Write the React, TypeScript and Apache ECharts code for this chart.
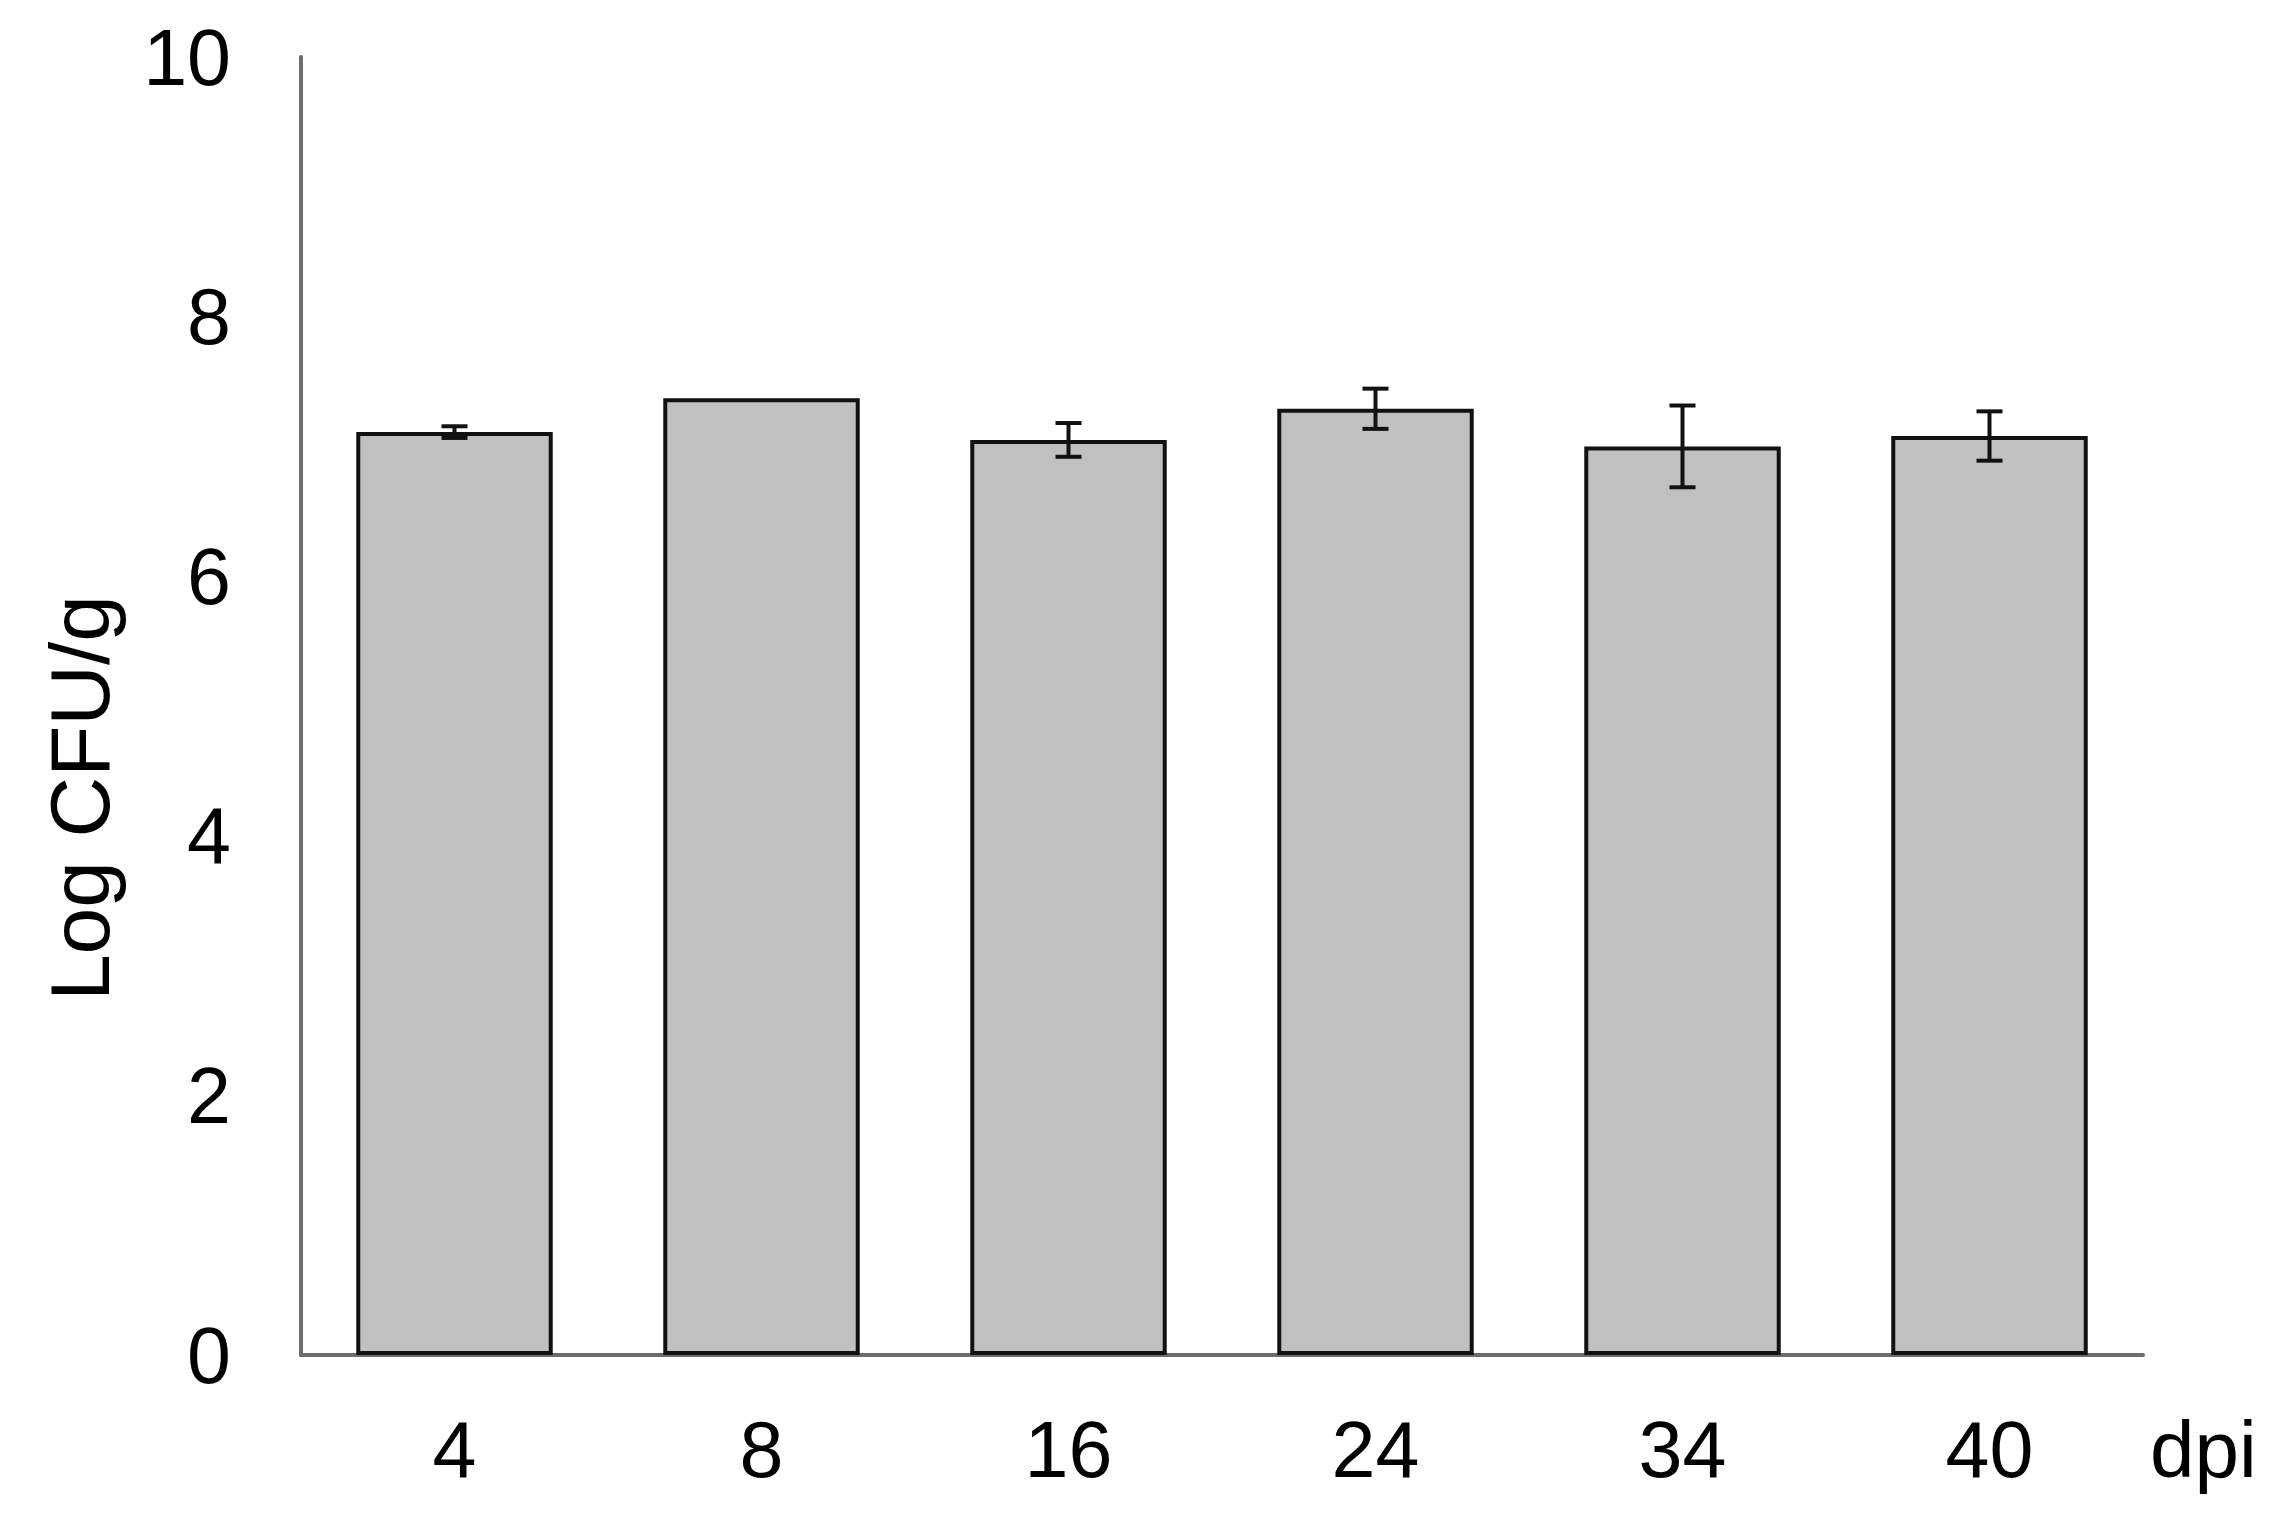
import React, { useEffect, useRef } from 'react';
import * as echarts from 'echarts';

// days post inoculation
const days = ['4', '8', '16', '24', '34', '40'];
// mean Log CFU/g
const meanLog = [7.11, 7.37, 7.05, 7.29, 7.0, 7.08];
// half-length of the error bars (0 = none drawn)
const errLog = [0.045, 0, 0.13, 0.155, 0.315, 0.19];
const yTicks = [0, 2, 4, 6, 8, 10];

const FONT = '"Liberation Sans", Arial, sans-serif';

export default function App() {
  const ref = useRef<HTMLDivElement>(null);
  useEffect(() => {
    if (!ref.current) return;
    const chart = echarts.init(ref.current, undefined, { renderer: 'svg' });
    const errData = days.map((_, i) => [i, meanLog[i] - errLog[i], meanLog[i] + errLog[i]]);
    chart.setOption({
      animation: false,
      backgroundColor: '#fff',
      textStyle: { fontFamily: FONT },
      grid: { left: 301, right: 126, top: 57, bottom: 174 },
      xAxis: {
        type: 'category',
        data: days,
        axisLine: { lineStyle: { color: '#6e6e6e', width: 4 } },
        axisTick: { show: false },
        axisLabel: { color: '#000', fontSize: 79, margin: 55, fontFamily: FONT },
      },
      yAxis: {
        type: 'value',
        min: yTicks[0],
        max: yTicks[yTicks.length - 1],
        interval: 2,
        axisLine: { show: true, lineStyle: { color: '#6e6e6e', width: 4 } },
        axisTick: { show: false },
        splitLine: { show: false },
        axisLabel: { color: '#000', fontSize: 79, margin: 70, fontFamily: FONT },
      },
      graphic: [
        {
          type: 'text',
          x: 80,
          y: 798,
          rotation: Math.PI / 2,
          style: {
            text: 'Log CFU/g',
            fontSize: 84,
            fontFamily: FONT,
            fill: '#000',
            align: 'center',
            verticalAlign: 'middle',
          },
        },
        {
          type: 'text',
          x: 2150,
          y: 1449,
          style: {
            text: 'dpi',
            fontSize: 80,
            fontFamily: FONT,
            fill: '#000',
            align: 'left',
            verticalAlign: 'middle',
          },
        },
      ],
      series: [
        {
          type: 'bar',
          data: meanLog,
          barWidth: '64%',
          itemStyle: { color: '#c0c0c0', borderColor: '#111', borderWidth: 4 },
          z: 2,
        },
        {
          type: 'custom',
          data: errData,
          z: 3,
          renderItem: (params: any, api: any) => {
            const i = api.value(0);
            const lo = api.coord([i, api.value(1)]);
            const hi = api.coord([i, api.value(2)]);
            if (Math.abs(hi[1] - lo[1]) < 0.5) return { type: 'group', children: [] };
            const cap = 13;
            const st = { stroke: '#111', lineWidth: 4 };
            return {
              type: 'group',
              children: [
                { type: 'line', shape: { x1: lo[0], y1: lo[1], x2: hi[0], y2: hi[1] }, style: st },
                { type: 'line', shape: { x1: lo[0] - cap, y1: lo[1], x2: lo[0] + cap, y2: lo[1] }, style: st },
                { type: 'line', shape: { x1: hi[0] - cap, y1: hi[1], x2: hi[0] + cap, y2: hi[1] }, style: st },
              ],
            };
          },
        },
      ],
    });
    return () => {
      chart.dispose();
    };
  }, []);
  return (
    <div
      ref={ref}
      style={{ position: 'fixed', left: 0, top: 0, width: 2269, height: 1529, background: '#fff' }}
    />
  );
}
